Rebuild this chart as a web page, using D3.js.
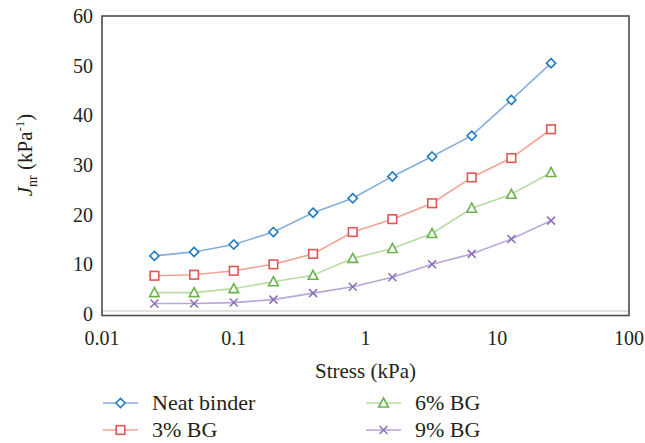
<!DOCTYPE html>
<html>
<head>
<meta charset="utf-8">
<script src="https://cdn.jsdelivr.net/npm/d3@7"></script>
<style>
  body { margin: 0; background: #fff; }
  svg text, svg tspan { font-family: "Liberation Serif", "Times New Roman", Times !important; }
</style>
</head>
<body>
<div id="vis"></div>
<script>
// frame size and margins
const FRAME_WIDTH = 645;
const FRAME_HEIGHT = 443;
const MARGINS = {left: 102, right: 16, top: 16, bottom: 128};
const FONT = "Liberation Serif";

// data
const stress = [0.025, 0.05, 0.1, 0.2, 0.4, 0.8, 1.6, 3.2, 6.4, 12.8, 25.6];
const neatBinder = [11.7, 12.5, 14.0, 16.5, 20.4, 23.3, 27.7, 31.7, 35.9, 43.1, 50.5];
const bg3 = [7.7, 7.9, 8.7, 10.0, 12.1, 16.5, 19.1, 22.3, 27.5, 31.4, 37.2];
const bg6 = [4.3, 4.3, 5.1, 6.5, 7.8, 11.2, 13.2, 16.2, 21.3, 24.1, 28.5];
const bg9 = [2.1, 2.1, 2.3, 2.9, 4.2, 5.5, 7.4, 10.0, 12.1, 15.1, 18.8];
const seriesNames = ["Neat binder", "3% BG", "6% BG", "9% BG"];
const xTicks = [0.01, 0.1, 1, 10, 100];
const yTicks = [0, 10, 20, 30, 40, 50, 60];

const SERIES = [
  {name: seriesNames[0], values: neatBinder, line: "#86aedd", mark: "#1f7cc2", symbol: "diamond"},
  {name: seriesNames[1], values: bg3, line: "#f0a496", mark: "#e05656", symbol: "square"},
  {name: seriesNames[2], values: bg6, line: "#b9dba3", mark: "#6cb24e", symbol: "triangle"},
  {name: seriesNames[3], values: bg9, line: "#b8a6d6", mark: "#8c6cbb", symbol: "cross"}
];

const VIS_WIDTH = FRAME_WIDTH - MARGINS.left - MARGINS.right;
const VIS_HEIGHT = FRAME_HEIGHT - MARGINS.top - MARGINS.bottom;

const svg = d3.select("#vis")
  .append("svg")
    .attr("width", FRAME_WIDTH)
    .attr("height", FRAME_HEIGHT);

// every text goes through here so the serif face sticks
function label(parent, size) {
  return parent.append("text")
    .style("font-family", FONT, "important")
    .attr("font-size", size)
    .attr("fill", "#231f20");
}

// scales
const X_SCALE = d3.scaleLog().domain([0.01, 100]).range([MARGINS.left, MARGINS.left + VIS_WIDTH]);
const Y_SCALE = d3.scaleLinear().domain([0, 60]).range([MARGINS.top + VIS_HEIGHT - 1, MARGINS.top]);

// light zero line just above the frame bottom
svg.append("line")
  .attr("x1", X_SCALE(0.01)).attr("x2", X_SCALE(100))
  .attr("y1", Y_SCALE(0) - 3).attr("y2", Y_SCALE(0) - 3)
  .attr("stroke", "#e2e2e2").attr("stroke-width", 2);

// frame
svg.append("rect")
  .attr("x", X_SCALE(0.01))
  .attr("y", Y_SCALE(60))
  .attr("width", X_SCALE(100) - X_SCALE(0.01))
  .attr("height", Y_SCALE(0) + 1.5 - Y_SCALE(60))
  .attr("fill", "none")
  .attr("stroke", "#4a4a4a")
  .attr("stroke-width", 1.6);

// tick labels
const xAxisG = svg.append("g");
xTicks.forEach(d => {
  label(xAxisG, 20)
    .attr("x", X_SCALE(d))
    .attr("y", Y_SCALE(0) + 31)
    .attr("text-anchor", "middle")
    .text(d3.format("~g")(d));
});

const yAxisG = svg.append("g");
yTicks.forEach(d => {
  label(yAxisG, 20)
    .attr("x", X_SCALE(0.01) - 9)
    .attr("y", Y_SCALE(d) + 7)
    .attr("text-anchor", "end")
    .text(d);
});

// axis titles
label(svg, 21)
  .attr("x", X_SCALE(1))
  .attr("y", 378)
  .attr("text-anchor", "middle")
  .text("Stress (kPa)");

const yTitle = label(svg, 21)
  .attr("transform", "translate(32,155) rotate(-90)")
  .attr("text-anchor", "middle");
yTitle.append("tspan").attr("font-style", "italic").text("J");
yTitle.append("tspan").attr("font-size", 14).attr("dy", 5).text("nr");
yTitle.append("tspan").attr("dy", -5).text(" (kPa");
yTitle.append("tspan").attr("font-size", 13).attr("dy", -8).text("-1");
yTitle.append("tspan").attr("dy", 8).text(")");

// marker drawing
function drawMarker(g, s, x, y) {
  const sel = g.append("g").attr("transform", "translate(" + x + "," + y + ")");
  if (s.symbol === "diamond") {
    sel.append("path").attr("d", "M0,-4.6L4.6,0L0,4.6L-4.6,0Z")
      .attr("fill", "#fff").attr("stroke", s.mark).attr("stroke-width", 1.6);
  } else if (s.symbol === "square") {
    sel.append("rect").attr("x", -4.3).attr("y", -4.3).attr("width", 8.6).attr("height", 8.6)
      .attr("fill", "#fff").attr("stroke", s.mark).attr("stroke-width", 1.6);
  } else if (s.symbol === "triangle") {
    sel.append("path").attr("d", "M0,-5L4.8,4L-4.8,4Z")
      .attr("fill", "#fff").attr("stroke", s.mark).attr("stroke-width", 1.6);
  } else {
    sel.append("path").attr("d", "M-4,-4L4,4M-4,4L4,-4")
      .attr("fill", "none").attr("stroke", s.mark).attr("stroke-width", 1.5);
  }
}

const line = d3.line()
  .x((d, i) => X_SCALE(stress[i]))
  .y(d => Y_SCALE(d));

// lines and points
SERIES.forEach(s => {
  svg.append("path")
    .datum(s.values)
    .attr("d", line)
    .attr("fill", "none")
    .attr("stroke", s.line)
    .attr("stroke-width", 1.6);
  const g = svg.append("g");
  s.values.forEach((v, i) => drawMarker(g, s, X_SCALE(stress[i]), Y_SCALE(v)));
});

// legend, two columns
const legendPos = [[103, 403], [103, 430], [366, 403], [366, 430]];
SERIES.forEach((s, i) => {
  const lx = legendPos[i][0], ly = legendPos[i][1];
  const g = svg.append("g");
  g.append("line")
    .attr("x1", lx).attr("x2", lx + 35)
    .attr("y1", ly).attr("y2", ly)
    .attr("stroke", s.line).attr("stroke-width", 1.6);
  drawMarker(g, s, lx + 17.5, ly);
  label(g, 22)
    .attr("x", lx + 49)
    .attr("y", ly + 7)
    .text(s.name);
});
</script>
</body>
</html>
